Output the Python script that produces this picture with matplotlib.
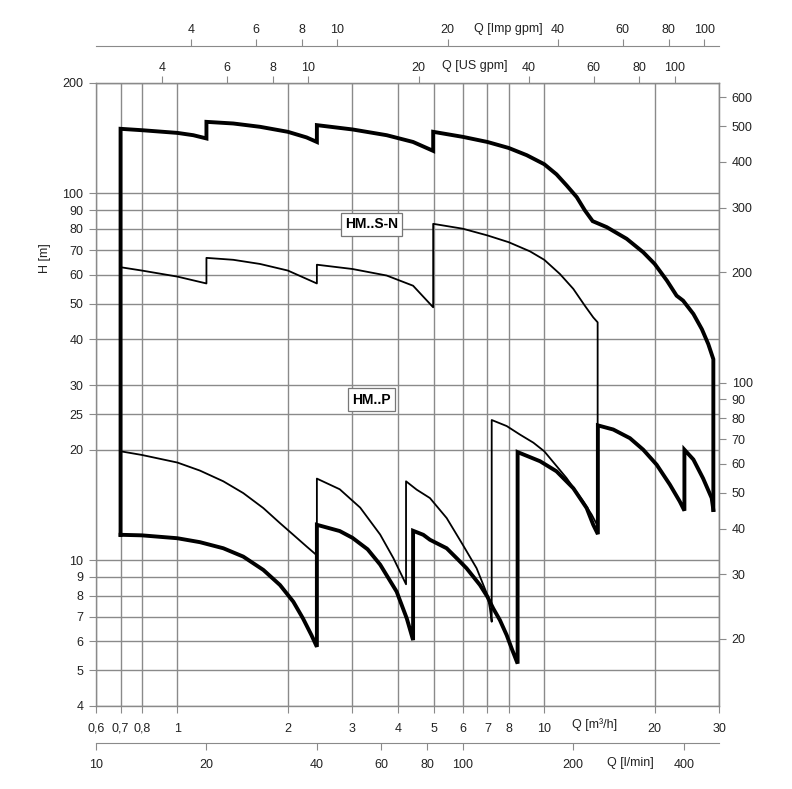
import matplotlib
matplotlib.use("Agg")
import matplotlib.pyplot as plt
from matplotlib.ticker import NullLocator

plt.rcParams['font.family'] = ['Liberation Sans', 'DejaVu Sans']

# Datos: Q en m3/h, H en m
env_top_q = [0.7, 0.7, 0.8, 1.0, 1.105, 1.2, 1.2, 1.42, 1.68, 2.0, 2.25, 2.4, 2.4, 3.0, 3.72, 4.39, 4.98,
             4.98, 6.0, 7.0, 8.0, 8.96, 10.0, 10.8, 11.5, 12.26, 12.9, 13.55, 14.8, 16.77, 18.61, 20.0,
             21.6, 22.95, 23.9, 25.5, 26.9, 28.0, 28.9, 28.9]
env_top_h = [11.7, 150, 148.7, 146.2, 144.1, 141.2, 156.7, 155.1, 151.9, 147.2, 142.1, 138.1, 153.5, 149.4,
             144.1, 138.1, 130.6, 147.2, 142.6, 138.1, 133.0, 127.1, 120.1, 112.7, 105.2, 97.7, 89.9, 84.0,
             80.9, 75.2, 69.1, 64.2, 57.8, 52.6, 51.0, 46.9, 42.6, 38.8, 35.3, 13.7]

env_bot_q = [0.7, 0.8, 1.0, 1.152, 1.334, 1.512, 1.715, 1.904, 2.07, 2.20, 2.32, 2.4,
             2.4, 2.77, 3.0, 3.3, 3.57, 3.96, 4.22, 4.39,
             4.39, 4.68, 4.88, 5.42, 5.77, 6.14, 6.68, 7.0, 7.26, 7.57, 7.9, 8.15, 8.46,
             8.46, 9.74, 10.8, 12.0, 13.05, 13.6, 14.0,
             14.0, 15.42, 17.12, 18.61, 20.25, 22.0, 23.4, 24.1,
             24.1, 25.5, 27.1, 28.6, 28.9]
env_bot_h = [11.72, 11.68, 11.47, 11.19, 10.77, 10.22, 9.40, 8.55, 7.70, 6.93, 6.24, 5.80,
             12.48, 12.0, 11.5, 10.7, 9.72, 8.2, 6.93, 6.05,
             12.02, 11.72, 11.36, 10.77, 10.12, 9.50, 8.55, 7.94, 7.38, 6.86, 6.24, 5.74, 5.22,
             19.7, 18.6, 17.46, 15.7, 13.86, 12.48, 11.77,
             23.3, 22.7, 21.5, 20.0, 18.2, 16.06, 14.46, 13.64,
             20.0, 18.8, 16.7, 14.76, 13.7]

sn_q = [0.7, 0.8, 1.0, 1.2, 1.2, 1.42, 1.68, 2.0, 2.4, 2.4, 3.0, 3.72, 4.39, 4.98,
        4.98, 6.0, 7.0, 8.0, 9.14, 10.0, 11.03, 12.0, 12.9, 13.6, 13.98, 13.98]
sn_h = [62.9, 61.6, 59.3, 56.8, 66.7, 65.9, 64.2, 61.6, 56.8, 63.9, 62.2, 59.7, 56.0, 48.9,
        82.6, 80.1, 76.8, 73.6, 69.5, 65.9, 60.3, 54.9, 49.4, 45.9, 44.5, 12.4]

p_q = [0.7, 0.8, 1.0, 1.152, 1.334, 1.512, 1.715, 1.904, 2.07, 2.25, 2.4,
       2.4, 2.77, 3.15, 3.57, 3.88, 4.20,
       4.20, 4.49, 4.88, 5.42, 6.0, 6.54, 7.0, 7.11, 7.19,
       7.19, 7.9, 8.58, 9.34, 10.0, 11.5, 12.77, 13.47, 14.0]
p_h = [19.8, 19.35, 18.45, 17.54, 16.4, 15.23, 13.86, 12.61, 11.72, 10.89, 10.3,
       16.68, 15.6, 13.9, 11.74, 10.12, 8.59,
       16.4, 15.56, 14.76, 13.02, 11.0, 9.50, 8.03, 7.38, 6.79,
       24.1, 23.2, 22.0, 20.9, 19.8, 16.74, 14.46, 13.3, 12.35]

# Escalas
q_ticks = [0.6, 0.7, 0.8, 1, 2, 3, 4, 5, 6, 7, 8, 10, 20, 30]
q_labels = ['0,6', '0,7', '0,8', '1', '2', '3', '4', '5', '6', '7', '8', '10', '20', '30']
h_ticks = [4, 5, 6, 7, 8, 9, 10, 20, 25, 30, 40, 50, 60, 70, 80, 90, 100, 200]
us_ticks = [4, 6, 8, 10, 20, 40, 60, 80, 100]
imp_ticks = [4, 6, 8, 10, 20, 40, 60, 80, 100]
lmin_ticks = [10, 20, 40, 60, 80, 100, 200, 400]
ft_ticks = [20, 30, 40, 50, 60, 70, 80, 90, 100, 200, 300, 400, 500, 600]
US_GPM, IMP_GPM, L_MIN, FT = 4.4029, 3.6662, 16.6667, 3.2808

W, H = 792, 789
gris = '#8a8a8a'
txt = '#222222'

fig = plt.figure(figsize=(W / 100, H / 100), dpi=100)
ax = fig.add_axes([96 / W, 1 - 706 / H, (719.3 - 96) / W, (706 - 83) / H])
ax.set_xscale('log')
ax.set_yscale('log')
ax.set_xlim(0.6, 30)
ax.set_ylim(4, 200)
ax.set_xticks(q_ticks, q_labels)
ax.set_yticks(h_ticks, [str(t) for t in h_ticks])
ax.minorticks_off()
ax.grid(True, color=gris, lw=1.0)
ax.tick_params(direction='out', length=5, width=0.8, color=gris, labelsize=9, labelcolor=txt, pad=4)
ax.tick_params(axis='x', pad=7)
for s in ax.spines.values():
    s.set_color(gris)
    s.set_linewidth(1.0)

ax.plot(env_top_q, env_top_h, color='black', lw=2.8, solid_joinstyle='miter', zorder=5)
ax.plot(env_bot_q, env_bot_h, color='black', lw=2.8, solid_joinstyle='miter', zorder=5)
ax.plot(sn_q, sn_h, color='black', lw=1.3, zorder=4)
ax.plot(p_q, p_h, color='black', lw=1.3, zorder=4)

caja = dict(boxstyle='square,pad=0.3', fc='white', ec='#777777', lw=0.9)
ax.text(3.385, 82.3, 'HM..S-N', ha='center', va='center', fontsize=10, fontweight='bold', bbox=caja, zorder=6)
ax.text(3.385, 27.4, 'HM..P', ha='center', va='center', fontsize=10, fontweight='bold', bbox=caja, zorder=6)


def eje_x(factor, ticks, lugar, pos, pad):
    a = ax.twiny()
    a.set_xscale('log')
    a.set_xlim(0.6 * factor, 30 * factor)
    a.set_xticks(ticks, [str(t) for t in ticks])
    a.xaxis.set_minor_locator(NullLocator())
    a.xaxis.set_ticks_position(lugar)
    for k, s in a.spines.items():
        s.set_visible(k == lugar)
    a.spines[lugar].set_position(('axes', pos))
    a.spines[lugar].set_color(gris)
    a.tick_params(direction='out', length=5, width=0.8, color=gris, labelsize=9, labelcolor=txt, pad=pad)
    return a


eje_x(US_GPM, us_ticks, 'top', 1.0, 1.8)
eje_x(IMP_GPM, imp_ticks, 'top', 1.06, 1.8)
eje_x(L_MIN, lmin_ticks, 'bottom', -0.06, 6.5)

axr = ax.twinx()
axr.set_yscale('log')
axr.set_ylim(4 * FT, 200 * FT)
axr.set_yticks(ft_ticks, [str(t) for t in ft_ticks])
axr.yaxis.set_minor_locator(NullLocator())
for k, s in axr.spines.items():
    s.set_visible(k == 'right')
axr.spines['right'].set_color(gris)
axr.tick_params(direction='out', length=5, width=0.8, color=gris, labelsize=9, labelcolor=txt, pad=4)

# Títulos de ejes
fig.text(475 / W, 1 - 66 / H, 'Q [US gpm]', ha='center', va='center', fontsize=9, color=txt)
fig.text(508 / W, 1 - 29 / H, 'Q [Imp gpm]', ha='center', va='center', fontsize=9, color=txt)
fig.text(595 / W, 1 - 725 / H, 'Q [m³/h]', ha='center', va='center', fontsize=9, color=txt)
fig.text(630 / W, 1 - 763 / H, 'Q [l/min]', ha='center', va='center', fontsize=9, color=txt)
fig.text(45 / W, 1 - 258 / H, 'H [m]', ha='center', va='center', fontsize=9, color=txt, rotation=90)

fig.savefig('out.png', dpi=100, facecolor='white')
